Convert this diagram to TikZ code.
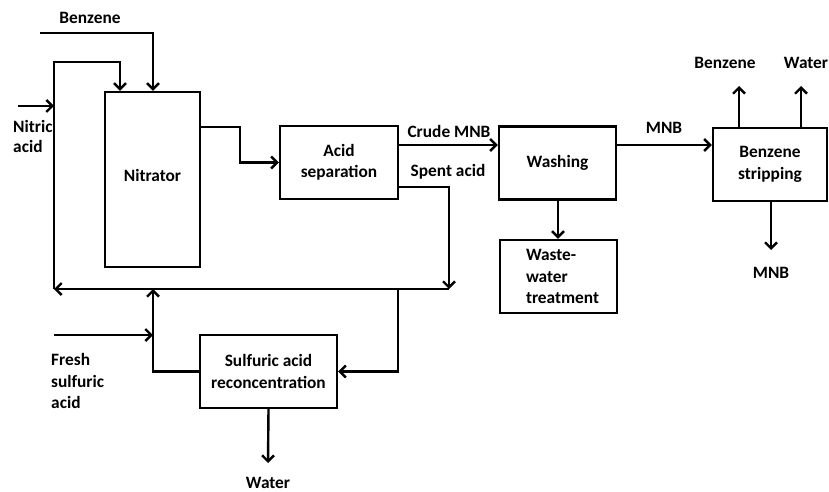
\documentclass[tikz,border=0pt]{standalone}
\usepackage{fontspec}
\setmainfont{Carlito}
\usetikzlibrary{arrows.meta}
\begin{document}
\begin{tikzpicture}[x=0.75pt,y=-0.75pt,
  line width=1.8pt,
  >={Straight Barb[length=4.5pt,width=9pt]},
  flow/.style={->,line join=miter},
  box/.style={draw,line width=1.8pt,inner sep=0pt,align=center,font=\bfseries\fontsize{13}{16}\selectfont},
  lbl/.style={inner sep=0pt,font=\bfseries\fontsize{13}{16}\selectfont}]
\useasboundingbox (0,0) rectangle (829,492);
% boxes
\node[box,minimum width=71.25pt,minimum height=131.25pt] (nit) at (152.5,179.5) {\raisebox{5.6pt}{Nitrator}};
\node[box,minimum width=88.5pt,minimum height=54.75pt] (acid) at (339,162.5) {Acid\\separation};
\node[box,minimum width=87.75pt,minimum height=54.75pt] (wash) at (557.5,163) {\raisebox{2pt}{Washing}};
\node[box,minimum width=85.5pt,minimum height=54.75pt] (strip) at (770,164.5) {Benzene\\stripping};
\node[box,minimum width=87.75pt,minimum height=54.75pt,text width=87.75pt,align=left] (waste) at (558.5,276.5) {\hspace*{19.5pt}Waste-\\\hspace*{19.5pt}water\\\hspace*{19.5pt}treatment};
\node[box,minimum width=102.75pt,minimum height=54.75pt] (sulf) at (268.5,371.5) {Sulfuric acid\\reconcentration};
% labels
\node[lbl] (lbz) at (90,18) {Benzene};
\node[lbl,align=left,anchor=west,font=\bfseries\fontsize{13}{15}\selectfont] (lna) at (12,136) {Nitric\\acid};
\node[lbl] (lcm) at (449,131) {Crude MNB};
\node[lbl] (lsa) at (448,172) {Spent acid};
\node[lbl] (lmnb) at (664,128) {MNB};
\node[lbl] (lbz2) at (725,63) {Benzene};
\node[lbl] (lw2) at (806,63) {Water};
\node[lbl] (lmnb2) at (771,273) {MNB};
\node[lbl,align=left,anchor=west] (lfs) at (50,381) {Fresh\\sulfuric\\acid};
\node[lbl] (lw) at (268,483) {Water};
% coordinates
\coordinate (bz0) at (40,33);
\coordinate (bzx) at (153,0);
\coordinate (rc0) at (54,289);
\coordinate (rc1) at (120,62);
\coordinate (rcx) at (120,0);
\coordinate (na0) at (18,106);
\coordinate (na1) at (54,106);
\coordinate (ny) at (0,127);
\coordinate (nx) at (240,0);
\coordinate (cy) at (0,145);
\coordinate (sy) at (0,187);
\coordinate (sp) at (449,187);
\coordinate (sp2) at (449,289);
\coordinate (rr) at (398,289);
\coordinate (rrx) at (398,0);
\coordinate (sl) at (153,289);
\coordinate (slx) at (153,0);
\coordinate (fs0) at (54,335);
\coordinate (fs1) at (153,335);
\coordinate (wo) at (268,463);
\coordinate (wx) at (558,0);
\coordinate (b1) at (739,86);
\coordinate (b2) at (801,86);
\coordinate (m2) at (771,250);
% connectors
\draw[flow] (bz0) -| (nit.north -| bzx);
\draw[flow] (sp2) -- (rc0);
\draw[flow] (rc0) |- (rc1) -- (nit.north -| rcx);
\draw[flow] (na0) -- (na1);
\draw[flow] (nit.east |- ny) -| (nx |- acid.west) -- (acid.west);
\draw[flow] (acid.east |- cy) -- (wash.west |- cy);
\draw[flow] (acid.east |- sy) -- (sp) -- (sp2);
\draw[flow] (rr) |- (sulf.east);
\draw[flow] (sulf.west) -| (sl);
\draw[flow] (fs0) -- (fs1);
\draw[flow] (sulf.south) -- (wo);
\draw[flow] (wash.south -| wx) -- (waste.north -| wx);
\draw[flow] (wash.east |- cy) -- (strip.west |- cy);
\draw[flow] (strip.north -| b1) -- (b1);
\draw[flow] (strip.north -| b2) -- (b2);
\draw[flow] (strip.south -| m2) -- (m2);
\end{tikzpicture}
\end{document}
